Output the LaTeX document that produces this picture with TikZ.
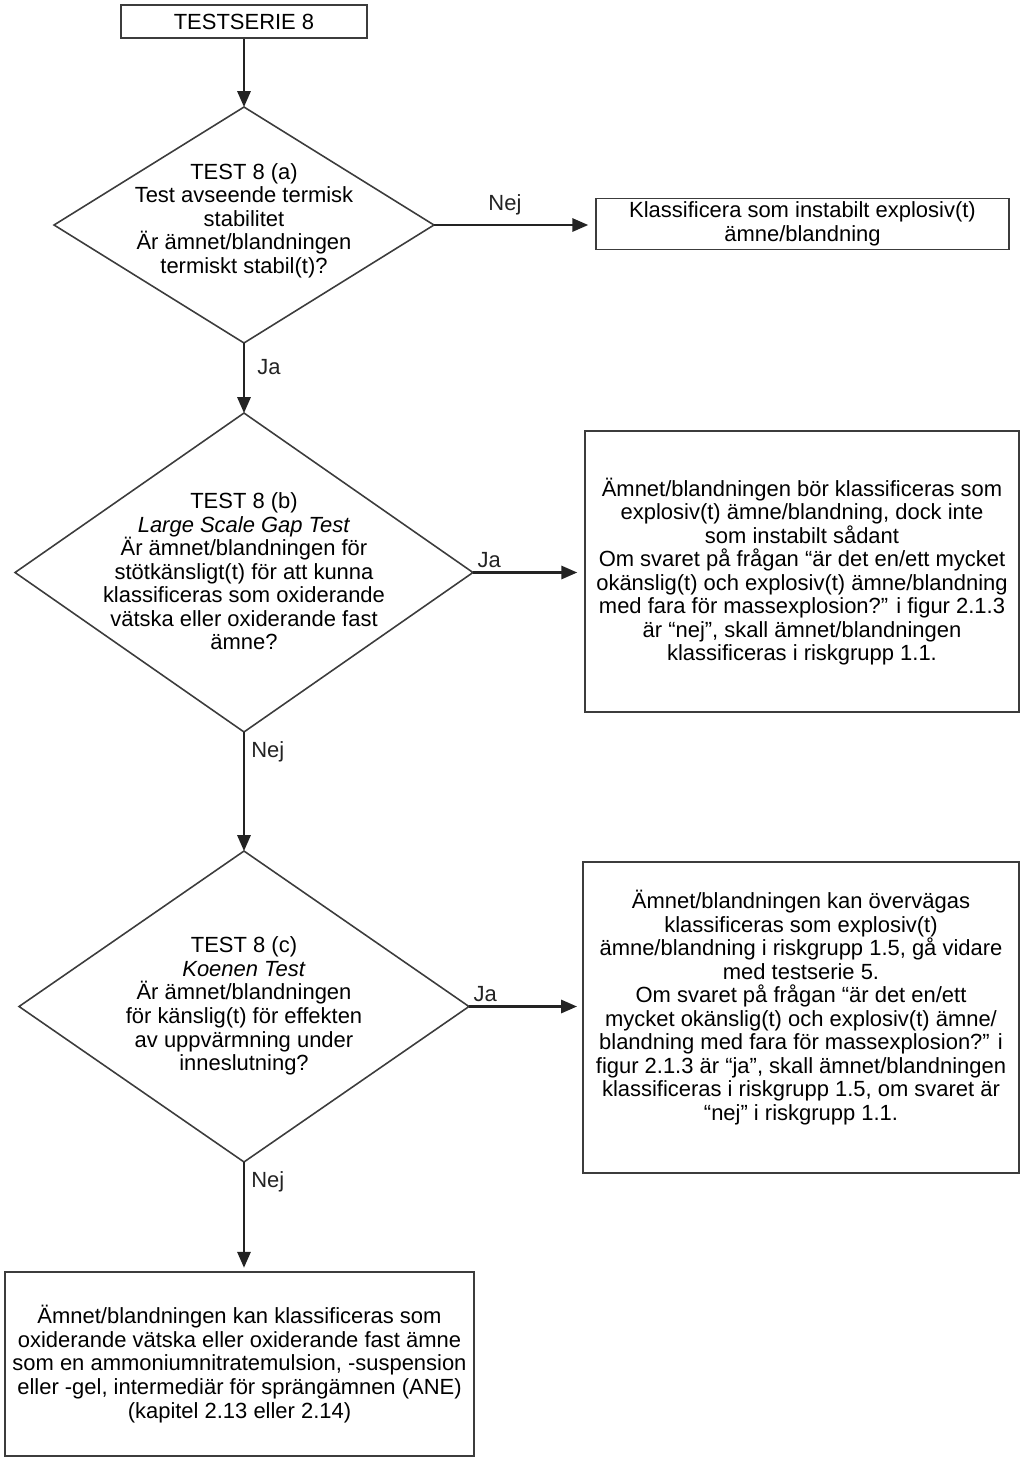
\documentclass[tikz,border=0pt]{standalone}
\usepackage{fontspec}
\setmainfont{Liberation Sans}
\usetikzlibrary{arrows.meta, positioning, shapes.geometric}
\definecolor{linecol}{RGB}{35,35,35}
\definecolor{boxcol}{RGB}{60,60,60}
\tikzset{
  txt/.style={font=\fontsize{12.5}{13.4}\selectfont,align=center},
  stepbox/.style={rectangle,draw=boxcol,line width=0.9pt,txt,inner sep=2pt},
  decision/.style={diamond,draw=boxcol,line width=0.9pt,inner sep=0pt,outer sep=0pt},
  dtext/.style={txt,inner sep=0pt},
  flow/.style={-{Triangle[length=9pt,width=7.5pt]},line width=1.3pt,linecol},
  ans/.style={txt,inner sep=2pt},
}

\begin{document}
\begin{tikzpicture}[x=0.02cm,y=-0.02cm]
  \useasboundingbox (0,0) rectangle (1023,1464);
  % start
  \node[stepbox,minimum width=4.92cm,minimum height=0.66cm] (serie) at (244,21.5) {TESTSERIE 8};
  % test 8 (a)
  \node[decision,minimum width=7.6cm,minimum height=4.72cm] (t8a) at (244,225) {};
  \node[dtext] (t8a-txt) at (244,220.5) {TEST 8 (a)\\Test avseende termisk\\stabilitet\\Är ämnet/blandningen\\termiskt stabil(t)?};
  \node[stepbox,minimum width=8.26cm,minimum height=0.96cm] (instab) at (802.5,224)
    {Klassificera som instabilt explosiv(t)\\ämne/blandning};
  % test 8 (b)
  \node[decision,minimum width=9.16cm,minimum height=6.38cm] (t8b) at (244,572.5) {};
  \node[dtext] (t8b-txt) at (244,571.5) {TEST 8 (b)\\\textit{Large Scale Gap Test}\\Är ämnet/blandningen för\\stötkänsligt(t) för att kunna\\klassificeras som oxiderande\\vätska eller oxiderande fast\\ämne?};
  \node[stepbox,minimum width=8.68cm,minimum height=5.62cm] (expl) at (802,571.5)
    {Ämnet/blandningen bör klassificeras som\\explosiv(t) ämne/blandning, dock inte\\som instabilt sådant\\Om svaret på frågan “är det en/ett mycket\\okänslig(t) och explosiv(t) ämne/blandning\\med fara för massexplosion?” i figur 2.1.3\\är “nej”, skall ämnet/blandningen\\klassificeras i riskgrupp 1.1.};
  % test 8 (c)
  \node[decision,minimum width=9.0cm,minimum height=6.22cm] (t8c) at (244,1006.5) {};
  \node[dtext] (t8c-txt) at (244,1006) {TEST 8 (c)\\\textit{Koenen Test}\\Är ämnet/blandningen\\för känslig(t) för effekten\\av uppvärmning under\\inneslutning?};
  \node[stepbox,minimum width=8.72cm,minimum height=6.22cm] (ane15) at (801,1017.5)
    {Ämnet/blandningen kan övervägas\\klassificeras som explosiv(t)\\ämne/blandning i riskgrupp 1.5, gå vidare\\med testserie 5.\\Om svaret på frågan “är det en/ett\\mycket okänslig(t) och explosiv(t) ämne/\\blandning med fara för massexplosion?” i\\figur 2.1.3 är “ja”, skall ämnet/blandningen\\klassificeras i riskgrupp 1.5, om svaret är\\“nej” i riskgrupp 1.1.\\[0.02cm]};
  % result
  \node[stepbox,minimum width=9.38cm,minimum height=3.68cm] (oxid) at (239.5,1364)
    {Ämnet/blandningen kan klassificeras som\\oxiderande vätska eller oxiderande fast ämne\\som en ammoniumnitratemulsion, -suspension\\eller -gel, intermediär för sprängämnen (ANE)\\(kapitel 2.13 eller 2.14)};
  % connectors
  \draw[flow] (serie) -- (t8a);
  \draw[flow,shorten >=4pt] (t8a.east) -- (t8a.east -| instab.west) node[ans,above=3pt,pos=0.44] {Nej};
  \draw[flow] (t8a.south) -- (t8b.north) node[ans,right=5pt,pos=0.34] {Ja};
  \draw[flow,shorten >=4pt] (t8b.east) -- (t8b.east -| expl.west) node[ans,above right,pos=0] {Ja};
  \draw[flow] (t8b.south) -- (t8c.north) node[ans,right=1.5pt,pos=0.17] {Nej};
  \draw[flow,shorten >=3pt] (t8c.east) -- (t8c.east -| ane15.west) node[ans,above right,pos=0] {Ja};
  \draw[flow,shorten >=2pt] (t8c.south) -- (t8c.south |- oxid.north) node[ans,right=1.5pt,pos=0.18] {Nej};
\end{tikzpicture}
\end{document}
